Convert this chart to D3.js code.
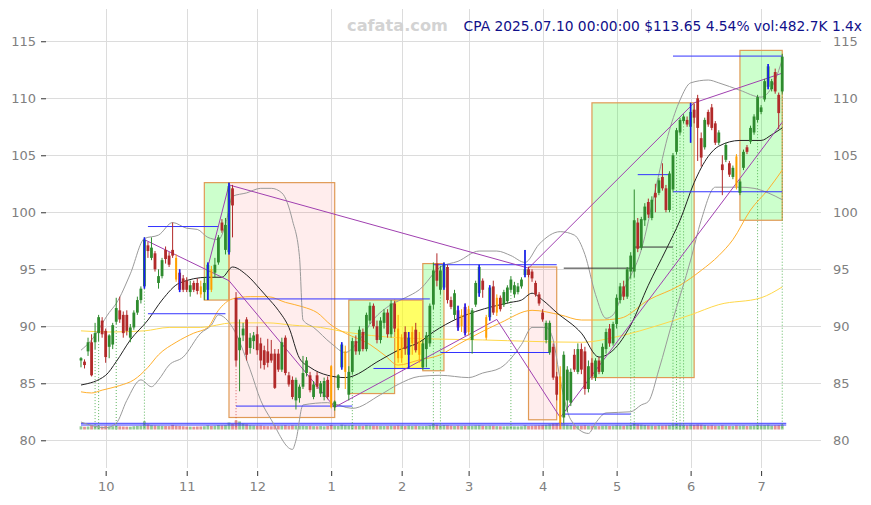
<!DOCTYPE html>
<html><head><meta charset="utf-8">
<script src="https://cdn.jsdelivr.net/npm/d3@7"></script>
<style>body{margin:0;background:#fff}svg{display:block}</style>
</head><body>
<svg id="c" width="871" height="505"></svg>
<script>
// ---------- DATA ----------
const monthTickIdx = [7,30,50,71,91,110,131,152,173,193];
const monthTickLabels = ["10","11","12","1","2","3","4","5","6","7"];
const priceTicks = [80,85,90,95,100,105,110,115];

const opens = [87.0,86.9,87.8,88.6,88.6,89.4,90.5,89.6,88.2,88.4,
90.4,91.4,91.0,91.0,89.0,89.9,91.2,92.3,93.5,97.1,
96.0,96.4,93.8,94.4,96.7,96.2,96.7,96.0,94.7,94.2,
94.0,93.0,93.8,93.8,93.5,93.0,93.2,95.0,94.7,95.6,
99.1,96.7,96.5,102.1,92.5,87.9,89.2,90.6,88.1,88.7,
89.3,88.5,87.9,87.8,87.6,87.6,87.6,86.2,89.0,85.7,
85.3,83.5,83.7,84.7,85.9,85.7,83.8,85.7,84.1,83.8,
85.3,86.5,82.9,84.6,86.4,86.0,84.0,86.0,88.7,87.8,
89.5,88.0,90.5,91.8,90.0,88.8,90.3,91.2,89.3,92.0,
89.8,87.2,89.5,87.5,88.5,89.7,87.5,86.4,88.0,88.5,
91.9,95.5,93.2,93.4,95.2,92.3,91.0,91.4,90.0,91.7,
89.5,88.8,91.9,92.9,94.0,89.0,90.8,93.5,91.2,92.5,
91.9,92.2,93.2,92.8,93.0,93.5,94.5,95.0,94.8,93.8,
92.8,91.2,88.8,87.7,88.2,85.6,85.6,82.0,83.5,83.3,
87.5,86.0,88.0,87.8,84.5,86.8,85.5,87.0,86.0,88.0,
89.8,88.5,90.2,92.3,93.5,92.6,94.8,94.8,99.1,96.9,
99.3,100.9,99.5,101.7,101.7,103.1,102.1,100.2,102.0,105.3,
107.0,108.0,108.1,107.5,109.0,110.0,106.5,105.7,108.8,109.2,
107.8,106.1,104.2,104.6,104.3,103.1,104.9,101.7,103.9,105.7,
106.2,107.0,108.1,108.8,109.9,111.0,110.8,112.3,110.3,110.6];
const highs = [87.3,87.1,89.0,89.3,90.3,91.0,90.8,89.8,89.3,90.3,
92.5,92.6,91.3,91.4,90.2,91.4,92.6,93.5,97.8,97.4,
97.8,96.6,95.0,96.0,97.0,96.5,99.1,96.3,95.0,94.5,
94.3,94.0,94.0,94.2,94.0,94.3,95.6,95.3,96.0,98.0,
99.4,99.5,102.6,102.4,93.0,90.6,90.3,90.8,89.4,89.5,
90.0,89.0,88.3,88.9,88.8,88.0,88.0,89.0,89.2,86.0,
85.6,85.5,84.9,87.4,87.3,86.0,85.2,86.0,85.2,85.5,
85.6,86.6,83.5,85.8,88.6,88.3,86.5,89.0,89.2,90.0,
89.8,91.2,92.1,92.0,90.5,90.8,91.5,91.5,92.3,92.2,
91.0,89.3,90.0,89.5,90.0,90.3,89.5,88.8,89.5,92.0,
95.6,96.4,95.3,95.6,95.4,92.6,93.2,91.8,91.5,92.0,
91.8,91.6,94.0,95.4,94.2,91.0,93.6,94.0,92.8,92.7,
93.2,93.6,94.4,93.9,93.8,94.3,96.7,95.2,95.0,94.0,
93.0,91.5,90.5,90.5,88.5,86.0,86.5,87.8,86.5,86.3,
88.0,88.5,88.5,88.2,87.0,87.2,87.2,87.3,88.5,89.8,
90.2,90.4,92.8,93.8,94.0,95.2,96.5,102.0,99.5,99.6,
100.8,101.2,101.4,102.5,103.0,104.3,102.4,103.6,105.2,107.4,
108.3,108.6,108.4,109.6,109.5,110.3,107.0,108.3,109.0,109.5,
108.0,107.2,105.0,106.1,104.5,104.1,105.1,102.9,105.5,105.9,
107.6,108.6,110.3,109.4,111.7,113.0,111.7,112.6,110.5,113.9];
const lows = [86.4,86.3,87.4,85.6,88.0,88.7,89.0,86.8,87.2,88.0,
90.2,90.3,89.0,89.2,88.6,89.7,91.0,92.0,93.3,96.0,
95.8,94.8,93.3,94.2,95.5,95.2,96.0,93.9,93.0,93.0,
93.0,92.6,93.0,92.8,92.5,92.3,92.3,93.0,94.3,95.4,
98.2,96.3,96.3,97.8,86.5,84.3,88.7,87.0,87.6,88.0,
87.5,86.3,86.2,86.4,86.8,84.5,86.0,86.0,85.7,84.7,
83.6,82.7,83.3,84.5,85.6,84.2,83.6,84.5,83.8,83.5,
83.6,82.8,82.6,84.4,86.2,84.5,83.5,85.8,87.5,87.5,
87.8,87.8,90.2,89.8,88.5,88.5,89.8,89.0,89.0,89.5,
86.8,86.8,87.5,86.3,87.5,87.7,86.8,86.2,86.4,88.2,
91.5,93.5,92.8,93.2,92.0,91.5,90.6,89.6,89.5,89.2,
89.2,87.6,91.7,92.6,92.5,88.8,90.5,91.0,90.9,91.3,
91.7,92.0,93.0,92.5,92.8,93.3,94.3,94.3,93.9,92.6,
91.8,90.4,88.5,87.5,85.3,83.5,81.0,81.5,82.5,83.0,
86.0,85.8,85.8,84.0,84.2,85.3,85.2,85.8,85.8,87.6,
88.2,88.3,89.8,92.0,92.3,92.4,94.2,94.3,96.5,96.7,
98.8,99.5,99.3,100.0,101.5,101.9,100.0,100.0,101.8,105.1,
106.8,107.8,107.5,106.1,107.8,104.5,104.0,105.5,107.5,107.2,
105.9,105.9,101.5,104.4,103.1,102.9,102.0,101.5,103.7,105.1,
106.0,106.8,107.9,108.6,109.7,110.8,110.6,110.4,107.3,110.4];
const closes = [87.2,86.6,88.6,85.7,89.4,90.8,89.3,87.3,89.2,90.1,
91.6,90.6,89.4,89.6,89.9,91.2,92.3,93.3,97.6,96.6,
96.9,95.0,94.4,95.8,95.9,95.4,96.2,94.1,93.2,93.2,
93.2,93.6,93.2,93.1,92.8,93.8,95.4,93.2,95.4,97.8,
98.4,98.9,102.3,100.6,87.0,89.0,89.8,87.5,89.0,89.2,
87.9,87.0,86.6,86.8,87.0,84.6,86.2,88.6,85.9,84.9,
83.8,85.3,84.7,85.9,87.0,84.4,84.9,84.7,85.0,85.2,
83.8,82.9,83.4,85.7,88.4,87.8,86.0,88.7,87.8,89.7,
88.0,91.0,91.8,90.0,88.8,90.5,91.2,89.3,92.0,89.8,
87.2,89.0,88.0,89.0,89.5,87.9,88.7,88.5,89.2,91.8,
94.9,94.0,94.9,95.4,92.3,91.7,92.9,89.9,91.0,89.4,
91.5,91.4,93.8,95.2,93.2,90.8,93.4,91.2,92.5,91.5,
93.0,93.4,94.1,93.6,93.5,94.1,95.0,94.5,94.2,92.8,
92.0,90.6,90.3,90.3,85.5,84.0,81.5,87.5,86.2,86.0,
86.2,88.0,86.2,84.5,86.5,85.6,87.0,86.0,88.2,89.5,
88.5,90.2,92.5,93.5,92.6,95.0,96.2,99.3,96.8,99.4,
100.5,99.8,101.1,101.3,102.8,102.1,100.2,103.4,105.0,107.2,
108.1,108.4,107.7,108.8,108.3,107.4,104.8,108.1,107.7,107.4,
106.1,107.0,103.7,105.9,103.3,103.9,102.2,102.7,105.3,105.3,
107.4,108.4,110.1,109.2,111.5,112.8,111.5,110.6,108.7,113.65];
const volumes = [320,280,300,410,350,380,300,360,310,330,
380,320,300,290,280,330,360,380,820,520,
430,400,380,360,350,340,460,380,360,330,
300,290,280,300,310,330,420,360,380,450,
420,440,700,560,900,800,600,520,420,400,
380,400,360,340,330,420,380,400,430,380,
420,400,360,380,350,370,340,330,350,320,
360,450,380,360,480,420,400,430,370,380,
360,420,400,380,370,360,350,360,380,370,
400,380,350,390,360,380,350,340,360,420,
560,480,400,440,420,380,360,390,360,380,
360,370,400,420,380,360,380,370,340,330,
320,330,340,320,310,330,420,360,380,400,
420,440,470,520,600,620,720,580,480,440,
400,380,390,420,380,360,350,340,380,400,
360,380,420,400,380,420,460,620,520,480,
450,420,400,380,420,400,420,440,520,560,
500,460,420,480,460,500,480,440,400,420,
380,370,420,380,360,350,400,380,400,360,
380,400,460,420,440,480,400,420,440,482.7];
const volumeGuides = [620,450];
const blueMarked = [18,28,36,42,74,93,103,107,109,113,116,126,173,195];
const orangeMarked = [27,34,37,71,75,90,91,94,96,108,110,115,118,136,186];
const greenSignals = [4,5,10,18,77,100,102,122,156,157,168,169,170,171,192,199];
const redSignals = [44];

// indicator lines: [index, price]
const maLine = [[0,84.85],[7,85.7],[10,86.9],[14,88.8],[19,90.55],[23,92.3],[28,93.8],[36,94.3],[40,94.3],[43,95.2],[47,94.5],[51,93.2],[53,92.5],[56,91.4],[59,89.9],[62,87.2],[65,86.4],[70,85.7],[75,85.5],[85,87.05],[90,87.9],[96,88.6],[100,89.5],[107,90.7],[112,91.3],[122,92.1],[125,92.3],[128,92.9],[131,92.3],[135,91.2],[142,89.4],[147,87.3],[151,87.9],[156,90.1],[161,93.6],[166,96.7],[170,99.3],[174,102.6],[178,104.9],[181,105.8],[187,106.3],[193,106.3],[196,106.8],[199,107.4]];
const upperBand = [[0,87.9],[3,88.8],[8,91.2],[10,92.0],[14,94.6],[18,97.7],[22,98.0],[26,99.1],[30,98.6],[33,98.5],[36,97.8],[39,97.6],[41,98.9],[43,101.4],[47,101.7],[51,102.1],[54,102.1],[57,101.7],[60,99.3],[62,96.1],[63,90.55],[66,89.9],[71,88.5],[75,87.7],[79,88.8],[83,90.6],[88,91.9],[92,92.5],[96,93.2],[102,95.2],[107,95.7],[113,96.6],[118,96.6],[122,96.2],[126,95.6],[130,97.2],[136,98.3],[140,98.0],[143,96.3],[146,92.8],[149,90.7],[151,91.0],[154,93.2],[159,96.7],[163,102.0],[167,107.2],[170,109.85],[173,111.35],[178,111.6],[181,111.35],[187,110.7],[193,110.1],[197,111.6],[199,113.4]];
const lowerBand = [[0,81.6],[7,81.1],[10,81.5],[13,83.5],[17,85.3],[20,84.7],[22,85.3],[25,86.6],[29,87.3],[34,89.4],[37,90.1],[39,91.0],[43,89.9],[48,86.2],[51,83.5],[54,81.8],[60,79.2],[61,80.0],[63,83.1],[70,83.3],[77,82.8],[85,84.0],[90,84.9],[96,85.6],[102,85.7],[110,85.5],[114,85.9],[119,86.35],[125,88.4],[128,89.9],[132,89.9],[134,88.8],[136,85.3],[139,81.8],[144,80.6],[146,81.5],[149,82.4],[156,82.5],[159,83.1],[161,83.4],[164,86.2],[168,90.6],[173,95.8],[176,99.3],[180,102.2],[187,102.2],[191,102.1],[195,101.7],[199,101.1]];
const ma50 = [[0,84.25],[3,84.15],[6,84.4],[11,84.8],[15,85.3],[19,86.4],[22,87.5],[27,88.6],[32,89.4],[36,89.9],[39,91.4],[43,92.4],[48,92.6],[53,92.6],[58,92.1],[63,91.7],[67,91.2],[71,90.1],[75,89.4],[82,88.4],[86,87.5],[90,86.6],[96,87.05],[102,87.5],[107,88.4],[113,89.4],[119,90.3],[128,91.4],[136,91.0],[142,90.55],[147,90.55],[153,90.7],[161,92.3],[170,93.6],[176,94.9],[181,96.2],[185,97.6],[190,100.2],[195,102.0],[199,103.7]];
const ma200 = [[0,89.6],[8,89.5],[18,89.6],[25,89.9],[34,89.9],[43,90.3],[53,90.3],[60,90.1],[68,89.9],[75,89.5],[90,89.0],[114,88.8],[142,88.6],[153,89.15],[164,90.1],[173,91.0],[181,91.9],[193,92.5],[199,93.45]];
const zigzagLow = [[18,97.6],[42,94.0],[72,82.9],[118,90.6],[136,82.0],[199,107.9]];
const zigzagHigh = [[36,95.2],[42,102.4],[127,95.1],[174,109.6],[199,112.2]];
// horizontal levels: [fromIndex, toIndex, price]
const blueLevels = [[19,39,98.75],[19,41,91.1],[44,77,83.0],[44,99,92.4],[83,99,86.3],[100,135,95.4],[102,133,87.7],[137,156,82.3],[168,199,113.7],[168,199,101.8],[158,167,103.3]];
const blackLevels = [[137,157,95.1],[157,168,96.95]];
// zones: [fromIndex, toIndex, lowPrice, highPrice, kind]
const zones = [[35,42,92.3,102.6,"up"],[42,72,82.0,102.6,"down"],[76,89,84.1,92.3,"up"],[89,97,86.3,92.3,"flat"],[97,103,86.1,95.5,"up"],[127,135,81.8,95.2,"down"],[145,174,85.5,109.6,"up"],[187,199,99.3,114.2,"up"]];
const titleText = "CPA 2025.07.10 00:00:00 $113.65 4.54% vol:482.7K 1.4x";
const watermark = "cafata.com";

// ---------- DRAW ----------
const svg = d3.select("#c");
const L = 46, R = 821, T = 9, B = 468;
const x = d3.scaleLinear().domain([-9.93, 210]).range([L, R]);
const y = d3.scaleLinear().domain([77.57, 117.83]).range([B, T]);
const volY = d3.scaleLinear().domain([0, 100]).range([429.5, 428.5]);
const font = "DejaVu Sans, Verdana, sans-serif";

// grid
const g = svg.append("g");
g.selectAll("line.h").data(priceTicks).join("line")
  .attr("x1", L).attr("x2", R).attr("y1", d => Math.round(y(d))+0.5).attr("y2", d => Math.round(y(d))+0.5)
  .attr("stroke", "#dcdcdc").attr("stroke-width", 1);
g.selectAll("line.v").data(monthTickIdx).join("line")
  .attr("y1", T).attr("y2", B).attr("x1", d => Math.round(x(d))+0.5).attr("x2", d => Math.round(x(d))+0.5)
  .attr("stroke", "#dcdcdc").attr("stroke-width", 1);

// zones
const zoneFill = {up: "rgba(0,255,0,0.2)", down: "rgba(255,0,0,0.07)", flat: "rgba(255,255,0,0.6)"};
svg.append("g").selectAll("rect").data(zones).join("rect")
  .attr("x", d => x(d[0])).attr("width", d => x(d[1]) - x(d[0]))
  .attr("y", d => y(d[3])).attr("height", d => y(d[2]) - y(d[3]))
  .attr("fill", d => zoneFill[d[4]]).attr("stroke", "#e09a55").attr("stroke-width", 1.2);

// volume
const idx = d3.range(closes.length);
svg.append("g").selectAll("rect").data(idx).join("rect")
  .attr("x", i => x(i) - 1.4).attr("width", 2.8)
  .attr("y", i => volY(volumes[i])).attr("height", i => volY(0) - volY(volumes[i]))
  .attr("fill", i => closes[i] >= opens[i] ? "rgba(40,150,40,0.5)" : "rgba(200,40,40,0.5)");
svg.append("g").selectAll("line").data(volumeGuides).join("line")
  .attr("x1", x(0)).attr("x2", x(closes.length - 1) + 4)
  .attr("y1", d => volY(d)).attr("y2", d => volY(d))
  .attr("stroke", "#3a3aff").attr("stroke-width", 1);

// signal dotted lines
svg.append("g").selectAll("line").data(greenSignals).join("line")
  .attr("x1", i => x(i)).attr("x2", i => x(i)).attr("y1", i => y(lows[i])).attr("y2", volY(0))
  .attr("stroke", "#3aa63a").attr("stroke-width", 1).attr("stroke-dasharray", "1,2").attr("opacity", 0.8);
svg.append("g").selectAll("line").data(redSignals).join("line")
  .attr("x1", i => x(i)).attr("x2", i => x(i)).attr("y1", i => y(lows[i])).attr("y2", volY(0))
  .attr("stroke", "#d04040").attr("stroke-width", 1).attr("stroke-dasharray", "1,2").attr("opacity", 0.8);

// indicator lines
const line = d3.line().x(d => x(d[0])).y(d => y(d[1])).curve(d3.curveMonotoneX);
const addLine = (data, color, w) => svg.append("path").datum(data).attr("d", line)
  .attr("fill", "none").attr("stroke", color).attr("stroke-width", w);
addLine(ma200, "#ffd84a", 1);
addLine(ma50, "#ffb02e", 1);
addLine(upperBand, "#9a9a9a", 1);
addLine(lowerBand, "#9a9a9a", 1);
addLine(maLine, "#222", 1);

// levels
svg.append("g").selectAll("line").data(blueLevels).join("line")
  .attr("x1", d => x(d[0])).attr("x2", d => x(d[1])).attr("y1", d => y(d[2])).attr("y2", d => y(d[2]))
  .attr("stroke", "#3333ff").attr("stroke-width", 1);
svg.append("g").selectAll("line").data(blackLevels).join("line")
  .attr("x1", d => x(d[0])).attr("x2", d => x(d[1])).attr("y1", d => y(d[2])).attr("y2", d => y(d[2]))
  .attr("stroke", "#333").attr("stroke-width", 1);

// zigzag
const zl = d3.line().x(d => x(d[0])).y(d => y(d[1]));
[zigzagLow, zigzagHigh].forEach(z => svg.append("path").datum(z).attr("d", zl)
  .attr("fill", "none").attr("stroke", "#a040b0").attr("stroke-width", 1));

// candles
const up = "#2e8b2e", dn = "#b22a2a";
const cg = svg.append("g");
idx.forEach(i => {
  const isOr = orangeMarked.includes(i);
  const col = isOr ? "#ffa000" : (closes[i] >= opens[i] ? up : dn);
  cg.append("line").attr("x1", x(i)).attr("x2", x(i)).attr("y1", y(highs[i])).attr("y2", y(lows[i]))
    .attr("stroke", col).attr("stroke-width", 1);
  const top = y(Math.max(opens[i], closes[i])), bot = y(Math.min(opens[i], closes[i]));
  cg.append("rect").attr("x", x(i) - (isOr ? 1 : 1.4)).attr("width", isOr ? 2 : 2.8)
    .attr("y", top).attr("height", Math.max(1, bot - top)).attr("fill", col);
  if (blueMarked.includes(i)) {
    cg.append("line").attr("x1", x(i)).attr("x2", x(i)).attr("y1", y(highs[i])).attr("y2", y(lows[i]))
      .attr("stroke", "#1a1aff").attr("stroke-width", 1.6);
  }
});

// axes
const axL = svg.append("g").attr("transform", `translate(${L},0)`)
  .call(d3.axisLeft(y).tickValues(priceTicks).tickSize(5).tickPadding(5).tickFormat(d3.format("d")));
const axR = svg.append("g").attr("transform", `translate(${R},0)`)
  .call(d3.axisRight(y).tickValues(priceTicks).tickSize(0).tickPadding(12).tickFormat(d3.format("d")));
const axB = svg.append("g").attr("transform", `translate(0,471)`)
  .call(d3.axisBottom(x).tickValues(monthTickIdx).tickSize(5).tickPadding(6).tickFormat((d, k) => monthTickLabels[k]));
[axL, axR, axB].forEach(a => {
  a.select(".domain").remove();
  a.selectAll("text").attr("fill", "#808080").style("font-family", font).style("font-size", "13px");
  a.selectAll(".tick line").attr("stroke", "#333");
});

// texts
svg.append("text").attr("x", 397.5).attr("y", 31).attr("text-anchor", "middle")
  .style("font-family", font).style("font-weight", "bold").style("font-size", "16.2px")
  .attr("fill", "#d3d3d3").text(watermark);
svg.append("text").attr("x", 862).attr("y", 31).attr("text-anchor", "end")
  .style("font-family", font).style("font-size", "13.8px").attr("fill", "#10108a").text(titleText);
</script>
</body></html>
